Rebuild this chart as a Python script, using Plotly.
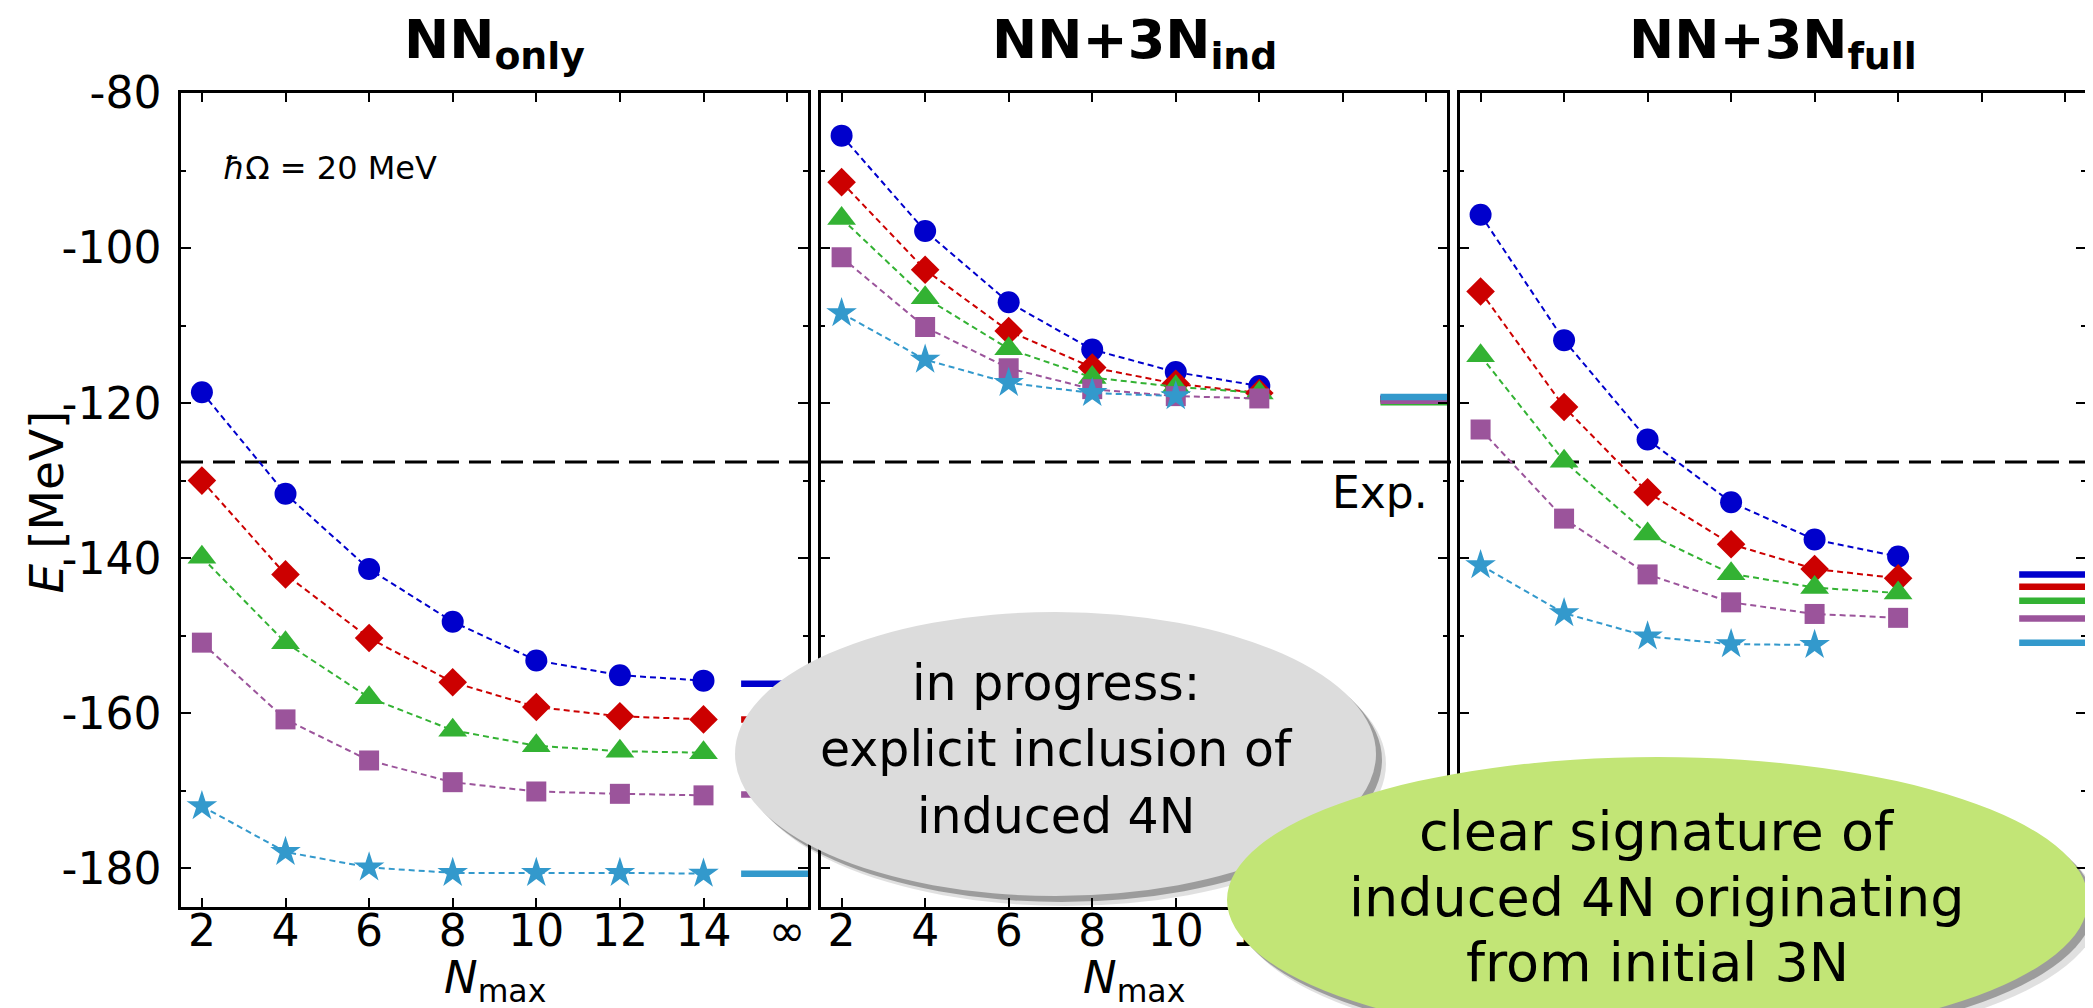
import plotly.graph_objects as go

# ---------------- data ----------------
N_VALUES = [2, 4, 6, 8, 10, 12, 14]
X_TICK_VALUES = [2, 4, 6, 8, 10, 12, 14, 16]
X_TICK_LABELS = ["2", "4", "6", "8", "10", "12", "14", "∞"]
# panel 2: labels beyond 12 are hidden under the green bubble in the original
X_TICK_LABELS_P2 = ["2", "4", "6", "8", "10", "12", "", ""]
Y_TICK_VALUES = [-80, -100, -120, -140, -160, -180]
Y_TICK_LABELS = ["-80", "-100", "-120", "-140", "-160", "-180"]
Y_MINOR_VALUES = [-90, -110, -130, -150, -170]
INF_POSITION = 16
E_EXP = -127.6

PANEL_TITLES = ["<b>NN<sub>only</sub></b>", "<b>NN+3N<sub>ind</sub></b>", "<b>NN+3N<sub>full</sub></b>"]

# panel 1: NN only
nn_only_1 = [-118.6, -131.7, -141.4, -148.2, -153.2, -155.1, -155.8]
nn_only_2 = [-130.0, -142.1, -150.3, -156.0, -159.2, -160.4, -160.8]
nn_only_3 = [-139.9, -150.9, -158.0, -162.2, -164.2, -164.9, -165.1]
nn_only_4 = [-150.9, -160.8, -166.1, -168.9, -170.1, -170.4, -170.6]
nn_only_5 = [-172.0, -177.9, -179.9, -180.6, -180.6, -180.6, -180.7]
nn_only_inf = [-156.2, -160.8, -165.4, -170.5, -180.7]

# panel 2: NN+3N induced
ind_1 = [-85.5, -97.8, -107.0, -113.1, -116.0, -117.8]
ind_2 = [-91.5, -102.8, -110.7, -115.4, -117.5, -118.7]
ind_3 = [-96.2, -106.4, -113.0, -116.7, -117.9, -118.7]
ind_4 = [-101.2, -110.2, -115.5, -118.2, -119.1, -119.4]
ind_5 = [-108.4, -114.4, -117.4, -118.7, -119.1]
ind_inf = [-119.4, -119.5, -119.9, -119.7, -119.2]

# panel 3: NN+3N full
full_1 = [-95.7, -111.9, -124.7, -132.8, -137.6, -139.8]
full_2 = [-105.6, -120.5, -131.5, -138.2, -141.4, -142.6]
full_3 = [-113.9, -127.5, -136.9, -142.0, -143.8, -144.5]
full_4 = [-123.4, -134.9, -142.1, -145.7, -147.2, -147.7]
full_5 = [-140.9, -147.1, -150.1, -151.1, -151.2]
full_inf = [-142.1, -143.7, -145.5, -147.8, -150.9]

PANELS = [
    [nn_only_1, nn_only_2, nn_only_3, nn_only_4, nn_only_5],
    [ind_1, ind_2, ind_3, ind_4, ind_5],
    [full_1, full_2, full_3, full_4, full_5],
]
PANELS_INF = [nn_only_inf, ind_inf, full_inf]

# ---------------- styles ----------------
COLORS = ["#0000cc", "#cc0000", "#33b233", "#9b549b", "#3399cc"]
SYMBOLS = ["circle", "diamond", "triangle-up", "square", "star"]
SIZES = [22, 22, 25, 20, 23]

W, H = 2093, 1008
ML, MR, MT, MB = 173, 15, 85, 109
PW = W - ML - MR
PH = H - MT - MB
FONT = "DejaVu Sans"


def fx(px):
    return (px - ML) / PW


def fy(py):
    return (H - MB - py) / PH


DOMAINS = [[0, fx(800)], [fx(812.7), fx(1439.3)], [fx(1451.7), 1]]

fig = go.Figure()

for p in range(3):
    xa = "x" if p == 0 else f"x{p+1}"
    ya = "y" if p == 0 else f"y{p+1}"
    for i, vals in enumerate(PANELS[p]):
        fig.add_trace(go.Scatter(
            x=N_VALUES[:len(vals)], y=vals, xaxis=xa, yaxis=ya,
            mode="lines+markers",
            line=dict(color=COLORS[i], width=2, dash="6px,4px"),
            marker=dict(symbol=SYMBOLS[i], size=SIZES[i], color=COLORS[i], line=dict(width=0)),
            showlegend=False, hoverinfo="skip",
        ))
    for i, v in enumerate(PANELS_INF[p]):
        fig.add_trace(go.Scatter(
            x=[INF_POSITION - 1.1, INF_POSITION + 0.5], y=[v, v], xaxis=xa, yaxis=ya,
            mode="lines", line=dict(color=COLORS[i], width=6.5),
            showlegend=False, hoverinfo="skip",
        ))

axis_base = dict(
    showline=True, linewidth=2.5, linecolor="black", mirror="allticks",
    ticks="inside", tickwidth=2, tickcolor="black", showgrid=False, zeroline=False,
    tickfont=dict(family=FONT, size=44, color="black"),
)

layout = dict(
    width=W, height=H,
    margin=dict(l=ML, r=MR, t=MT, b=MB),
    paper_bgcolor="white", plot_bgcolor="white",
    font=dict(family=FONT, color="black"),
    showlegend=False,
)
x_labels = [X_TICK_LABELS, X_TICK_LABELS_P2, X_TICK_LABELS]
for p in range(3):
    xk = "xaxis" if p == 0 else f"xaxis{p+1}"
    yk = "yaxis" if p == 0 else f"yaxis{p+1}"
    layout[xk] = dict(axis_base, domain=DOMAINS[p], range=[1.5, 16.5],
                      tickmode="array", tickvals=X_TICK_VALUES, ticktext=x_labels[p],
                      ticklen=9, ticklabelstandoff=-17, showticklabels=(p < 2),
                      anchor="y" if p == 0 else f"y{p+1}")
    layout[yk] = dict(axis_base, range=[-185, -80],
                      tickmode="array", tickvals=Y_TICK_VALUES, ticktext=Y_TICK_LABELS, ticklen=10,
                      minor=dict(tickmode="array", tickvals=Y_MINOR_VALUES, ticks="inside", ticklen=5,
                                 tickwidth=2, tickcolor="black", showgrid=False),
                      showticklabels=(p == 0), ticklabelstandoff=8,
                      anchor="x" if p == 0 else f"x{p+1}")
fig.update_layout(**layout)

shapes = [
    dict(type="line", xref="paper", yref="y", x0=0, x1=1, y0=E_EXP, y1=E_EXP,
         line=dict(color="black", width=2.8, dash="22px,10px"), layer="below"),
]


def ellipse(x0, y0, x1, y1, color):
    return dict(type="circle", xref="paper", yref="paper",
                x0=fx(x0), x1=fx(x1), y0=fy(y1), y1=fy(y0),
                fillcolor=color, line=dict(width=0), layer="above")


# gray ellipse with shadow
shapes.append(ellipse(727 + 10, 604 + 10, 1368 + 10, 888 + 10, "rgba(0,0,0,0.12)"))
shapes.append(ellipse(727 + 6, 604 + 6, 1368 + 6, 888 + 6, "rgba(0,0,0,0.3)"))
shapes.append(ellipse(727, 604, 1368, 888, "#dcdcdc"))
# green ellipse with shadow
shapes.append(ellipse(1219 + 11, 749 + 11, 2080 + 11, 1035 + 11, "rgba(0,0,0,0.12)"))
shapes.append(ellipse(1219 + 6, 749 + 6, 2080 + 6, 1035 + 6, "rgba(0,0,0,0.3)"))
shapes.append(ellipse(1219, 749, 2080, 1035, "#c2e576"))
fig.update_layout(shapes=shapes)

ann = []
centers = [(173.3 + 800) / 2, (812.7 + 1439.3) / 2, (1451.7 + 2078.3) / 2]
for p in range(3):
    ann.append(dict(text=PANEL_TITLES[p], xref="paper", yref="paper", x=fx(centers[p]), y=fy(35),
                    xanchor="center", yanchor="middle", showarrow=False,
                    font=dict(family=FONT, size=54, color="black")))
for p in range(2):
    ann.append(dict(text="<i>N</i><sub>max</sub>", xref="paper", yref="paper", x=fx(centers[p]), y=fy(972),
                    xanchor="center", yanchor="middle", showarrow=False,
                    font=dict(family=FONT, size=45, color="black")))
ann.append(dict(text="<i>E</i> [MeV]", xref="paper", yref="paper", x=fx(37.5), y=fy(494), textangle=-90,
                xanchor="center", yanchor="middle", showarrow=False,
                font=dict(family=FONT, size=47, color="black")))
ann.append(dict(text="<i>ħ</i>Ω = 20 MeV", xref="paper", yref="paper", x=fx(213), y=fy(160),
                xanchor="left", yanchor="middle", showarrow=False,
                font=dict(family=FONT, size=32, color="black")))
ann.append(dict(text="Exp.", xref="paper", yref="paper", x=fx(1422), y=fy(485),
                xanchor="right", yanchor="middle", showarrow=False,
                font=dict(family=FONT, size=44, color="black")))
gray_lines = ["in progress:", "explicit inclusion of", "induced 4N"]
gray_centers = [675, 741.5, 808.5]
for t, cy in zip(gray_lines, gray_centers):
    ann.append(dict(text=t, xref="paper", yref="paper", x=fx(1048), y=fy(cy),
                    xanchor="center", yanchor="middle", showarrow=False,
                    font=dict(family=FONT, size=49, color="black")))
green_lines = ["clear signature of", "induced 4N originating", "from initial 3N"]
green_centers = [823, 889, 955]
for t, cy in zip(green_lines, green_centers):
    ann.append(dict(text=t, xref="paper", yref="paper", x=fx(1649), y=fy(cy),
                    xanchor="center", yanchor="middle", showarrow=False,
                    font=dict(family=FONT, size=54, color="black")))
fig.update_layout(annotations=ann)

fig.write_html("out.html")
